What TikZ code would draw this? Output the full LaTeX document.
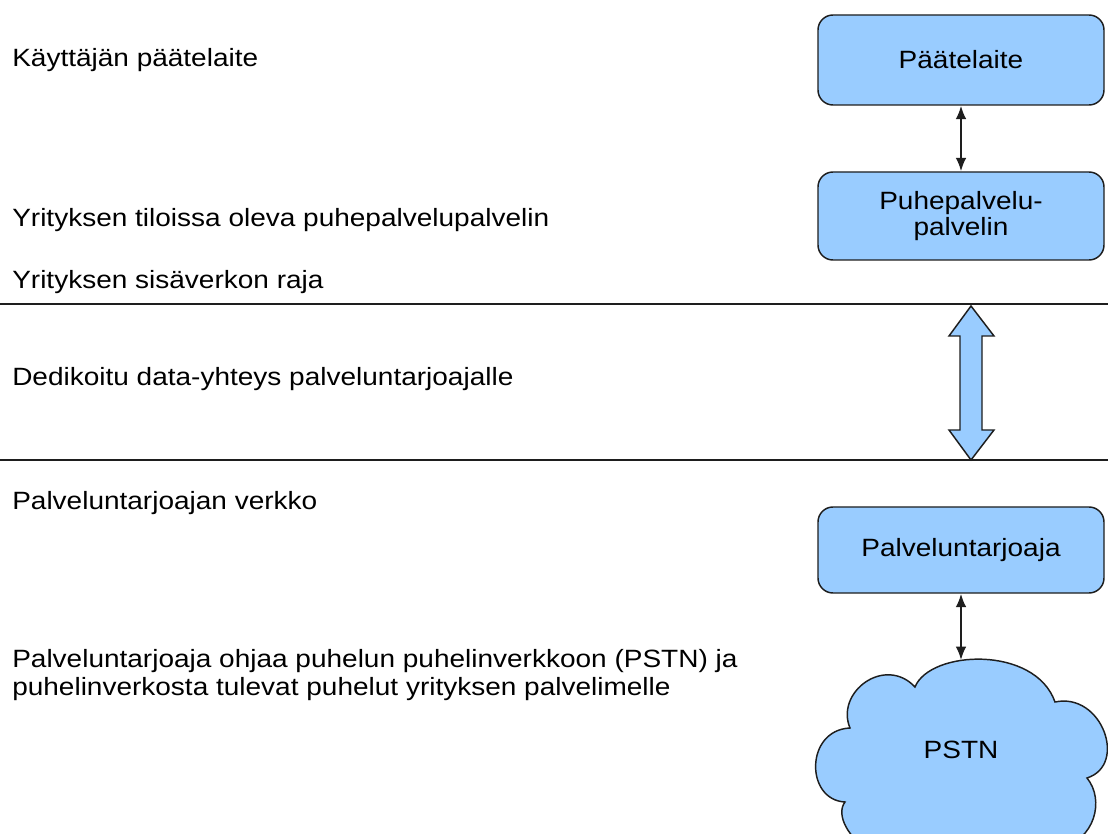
\documentclass[tikz,border=0pt]{standalone}
\usepackage{fontspec}
\setmainfont{Liberation Sans}
\newfontfamily\lblfont{Liberation Sans}[FakeStretch=1.12]
\usetikzlibrary{arrows.meta}
\definecolor{boxblue}{HTML}{99CCFF}
\definecolor{edge}{HTML}{1E1E1E}
\tikzset{
  x=0.75pt, y=-0.75pt,
  lefttext/.style={anchor=base west, inner sep=0pt, align=left,
    font=\lblfont\fontsize{18.75}{21}\selectfont},
  boxnode/.style={draw=edge, fill=boxblue, line width=1.1pt, rounded corners=11.25pt,
    minimum width=214.5pt, align=center,
    font=\lblfont\fontsize{18.75}{19.5}\selectfont},
  link/.style={draw=edge, line width=1.5pt, {Latex[length=10pt,width=8pt]}-{Latex[length=10pt,width=8pt]}},
  divider/.style={draw=edge, line width=1.3pt},
}
\begin{document}
\begin{tikzpicture}
\useasboundingbox (0,0) rectangle (1108,834);
\fill[white] (0,0) rectangle (1108,834);

% layer descriptions
\node[lefttext] (t1) at (12,67) {Käyttäjän päätelaite};
\node[lefttext] (t2) at (12,227) {Yrityksen tiloissa oleva puhepalvelupalvelin};
\node[lefttext] (t3) at (12,289) {Yrityksen sisäverkon raja};
\node[lefttext] (t4) at (12,386) {Dedikoitu data-yhteys palveluntarjoajalle};
\node[lefttext] (t5) at (12,509) {Palveluntarjoajan verkko};
\node[lefttext] (t6) at (12,695) {Palveluntarjoaja ohjaa puhelun puhelinverkkoon (PSTN) ja\\puhelinverkosta tulevat puhelut yrityksen palvelimelle};

% network boundaries
\draw[divider] (0,304) -- (1108,304);
\draw[divider] (0,460) -- (1108,460);

% devices
\node[boxnode, minimum height=67.5pt] (term) at (961,60) {Päätelaite};
\node[boxnode, minimum height=66pt] (srv) at (961,216) {Puhepalvelu-\\palvelin};
\node[boxnode, minimum height=64.5pt] (isp) at (961,550) {Palveluntarjoaja};

% PSTN cloud
\fill[boxblue, draw=edge, line width=1.1pt]
  (850,728) .. controls (835,692) and (885,655) .. (915,687)
  .. controls (930,650) and (1035,645) .. (1055,702)
  .. controls (1102,692) and (1128,765) .. (1087,778)
  .. controls (1105,800) and (1095,840) .. (1060,848)
  .. controls (1000,880) and (900,880) .. (868,848)
  .. controls (850,840) and (835,815) .. (845,802)
  .. controls (805,800) and (805,730) .. cycle;
\coordinate (cloudtop) at (961,660);
\node[font=\lblfont\fontsize{18.75}{21}\selectfont, anchor=base, inner sep=0pt] (pstn) at (961,758) {PSTN};

% links
\draw[link] (term.south) -- (srv.north);
\draw[link] (isp.south) -- (cloudtop);

% dedicated data connection
\filldraw[fill=boxblue, draw=edge, line width=1.1pt, line join=miter]
  (971,306) -- (994,336) -- (982,336) -- (982,430) -- (994,430) -- (971,460)
  -- (949,430) -- (960,430) -- (960,336) -- (949,336) -- cycle;
\end{tikzpicture}
\end{document}
